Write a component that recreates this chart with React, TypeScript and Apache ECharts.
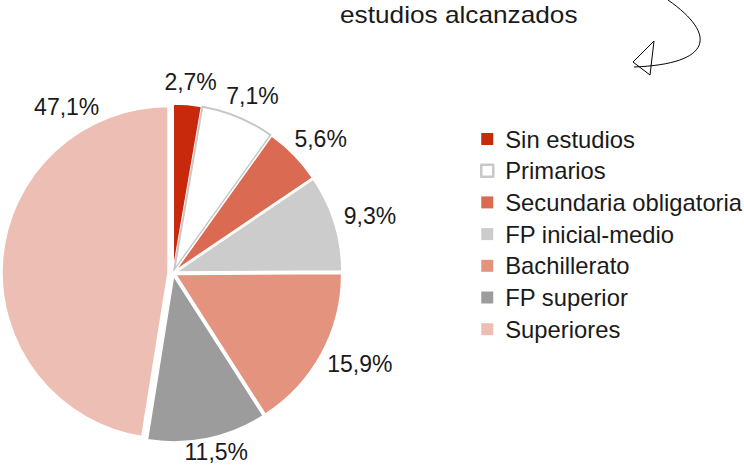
import React, { useEffect, useRef } from "react";
import * as echarts from "echarts";

const categories = [
  "Sin estudios",
  "Primarios",
  "Secundaria obligatoria",
  "FP inicial-medio",
  "Bachillerato",
  "FP superior",
  "Superiores",
];
const values = [2.7, 7.1, 5.6, 9.3, 15.9, 11.5, 47.1];
const valueLabels = ["2,7%", "7,1%", "5,6%", "9,3%", "15,9%", "11,5%", "47,1%"];
const colors = ["#C8290C", "#FFFFFF", "#DB6A52", "#CCCCCC", "#E4937F", "#9C9C9C", "#EDBFB4"];
const titleText = "estudios alcanzados";

const FONT = '"Liberation Sans", Arial, Helvetica, sans-serif';
const W = 744;
const H = 466;
const LABEL_SIZE = 23;
const CX = 173;
const CY = 273;
const R = 166;
const LABEL_GAP = 14;
const BIG_INDEX = 6;
const BIG_LABEL_ANGLE = 330; // degrees clockwise from top

let measureCtx: CanvasRenderingContext2D | null = null;
function textWidth(t: string) {
  if (!measureCtx) {
    const c = document.createElement("canvas");
    measureCtx = c.getContext("2d");
  }
  if (!measureCtx) return t.length * LABEL_SIZE * 0.55;
  measureCtx.font = `${LABEL_SIZE}px ${FONT}`;
  return measureCtx.measureText(t).width;
}

// Percentage labels placed just outside each slice, along its bisector,
// kept inside the chart area.
function buildLabels() {
  const total = values.reduce((a, b) => a + b, 0);
  let cum = 0;
  return values.map((v, i) => {
    let ang = ((cum + v / 2) / total) * Math.PI * 2;
    cum += v;
    if (i === BIG_INDEX) ang = (BIG_LABEL_ANGLE / 180) * Math.PI;
    const d = R + LABEL_GAP;
    const w = textWidth(valueLabels[i]);
    const h = LABEL_SIZE;
    const s = Math.sin(ang);
    const c = Math.cos(ang);
    let x = CX + d * s + (w / 2) * s;
    let y = CY - d * c - (h / 2) * c;
    x = Math.max(w / 2 + 2, Math.min(W - w / 2 - 2, x));
    y = Math.max(h / 2 + 2, Math.min(H - h / 2 - 3, y));
    return {
      type: "text",
      x,
      y,
      silent: true,
      style: {
        text: valueLabels[i],
        font: `${LABEL_SIZE}px ${FONT}`,
        fill: "#1A1A1A",
        textAlign: "center",
        textVerticalAlign: "middle",
      },
    };
  });
}

function buildSeries(showBig: boolean, offset: number) {
  const data = categories.map((name, i) => {
    const visible = showBig ? i === BIG_INDEX : i !== BIG_INDEX;
    const style = visible
      ? {
          color: colors[i],
          borderColor: i === 1 ? "#C8C8C8" : "#FFFFFF",
          borderWidth: i === 1 ? 2 : 1.5,
        }
      : { color: "rgba(0,0,0,0)", borderColor: "rgba(0,0,0,0)", borderWidth: 0 };
    return {
      name,
      value: values[i],
      selected: true,
      itemStyle: style,
      select: { itemStyle: style },
    };
  });
  return {
    type: "pie",
    center: [CX, CY],
    radius: [0, R],
    startAngle: 90,
    clockwise: true,
    selectedMode: "multiple",
    selectedOffset: offset,
    emphasis: { disabled: true },
    label: { show: false },
    labelLine: { show: false },
    data,
  };
}

export default function App() {
  const ref = useRef<HTMLDivElement>(null);
  useEffect(() => {
    if (!ref.current) return;
    const chart = echarts.init(ref.current, null, { renderer: "svg" });
    chart.setOption({
      animation: false,
      backgroundColor: "#FFFFFF",
      legend: {
        orient: "vertical",
        left: 480,
        top: 127,
        padding: 0,
        itemWidth: 12,
        itemHeight: 12,
        itemGap: 7.7,
        selectedMode: false,
        icon: "rect",
        itemStyle: { borderWidth: 0 },
        textStyle: {
          fontFamily: FONT,
          fontSize: 23.8,
          color: "#1A1A1A",
          lineHeight: 24,
          padding: [0, 0, 0, 7],
        },
        data: categories.map((name, i) => ({
          name,
          itemStyle:
            i === 1
              ? { color: "#FFFFFF", borderColor: "#C8C8C8", borderWidth: 2.5 }
              : { color: colors[i], borderWidth: 0 },
        })),
      },
      graphic: [
        {
          type: "text",
          x: 340,
          y: 4,
          scaleX: 1.14,
          style: {
            text: titleText,
            font: `23px ${FONT}`,
            fill: "#1A1A1A",
            textVerticalAlign: "top",
          },
        },
        {
          type: "bezierCurve",
          shape: { x1: 668, y1: 0, cpx1: 718, cpy1: 35, cpx2: 712, cpy2: 64, x2: 634, y2: 67 },
          style: { stroke: "#000000", lineWidth: 1, fill: "none" },
        },
        {
          type: "polygon",
          shape: { points: [[654, 41], [650, 75], [633, 62]] },
          style: { stroke: "#000000", lineWidth: 1, fill: "none" },
        },
        ...buildLabels(),
      ],
      series: [buildSeries(false, 3), buildSeries(true, 5)],
    });
    return () => chart.dispose();
  }, []);
  return (
    <div
      ref={ref}
      style={{ position: "fixed", left: 0, top: 0, width: W, height: H, background: "#fff" }}
    />
  );
}
